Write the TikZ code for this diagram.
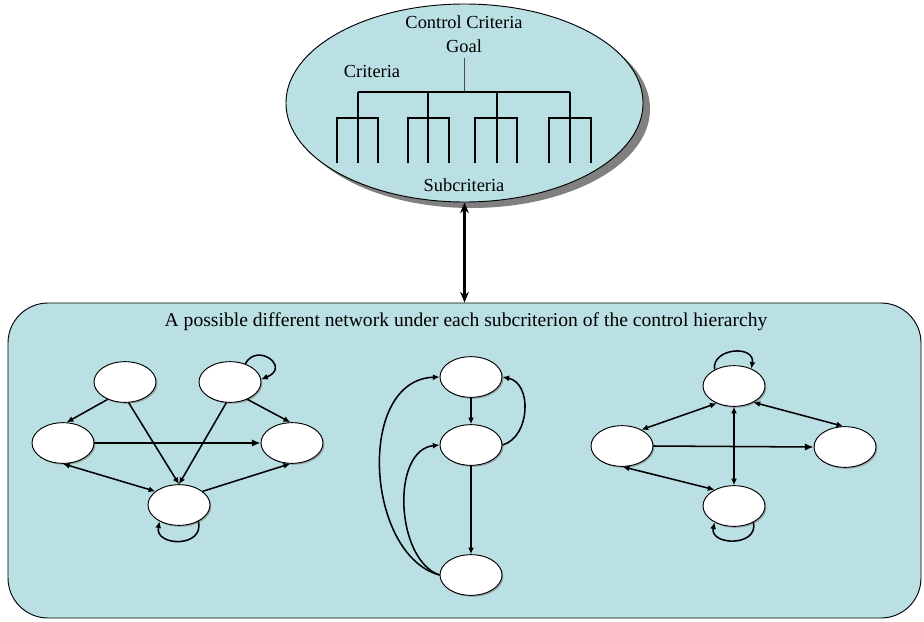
\documentclass[tikz,border=0pt]{standalone}
\usepackage{fontspec}
\setmainfont{Liberation Serif}
\usetikzlibrary{arrows.meta,shadows,shapes.geometric}
\definecolor{panelblue}{RGB}{186,224,227}
\definecolor{shadowgray}{RGB}{128,128,128}
\begin{document}
\begin{tikzpicture}[x=0.75pt,y=-0.75pt,
  every node/.style={font=\fontsize{13.8}{15}\selectfont},
  netnode/.style={ellipse,draw,fill=white,line width=0.7pt,minimum width=46.5pt,minimum height=30.5pt,inner sep=0pt,
    drop shadow={shadow xshift=1.1pt,shadow yshift=-1.1pt,fill=shadowgray,opacity=0.6}},
  link/.style={line width=1.15pt},
  tip/.style={link,-{Latex[length=5pt,width=4.5pt]}},
  bigtip/.style={link,-{Latex[length=6.5pt,width=5.5pt]}},
  twotip/.style={link,{Latex[length=5pt,width=4.5pt]}-{Latex[length=5pt,width=4.5pt]}},
  tree/.style={line width=1pt}
]
\useasboundingbox (0,0) rectangle (924,621);
\fill[white] (0,0) rectangle (924,621);

% control hierarchy ellipse with its shadow
\fill[shadowgray] (471.5,109) ellipse [x radius=133.9pt, y radius=74.25pt];
\node (ctrl) [ellipse,draw,fill=panelblue,line width=0.7pt,minimum width=267.8pt,minimum height=148.5pt,inner sep=0pt] at (464.5,103) {};

\node (cc) at (464,22) {Control Criteria};
\node (goal) at (464,46) {Goal};
\node (crit) at (372,71) {Criteria};
\node (sub) at (464,185) {Subcriteria};

% hierarchy tree
\draw[line width=0.6pt,black!70] (464,58) -- (464,92);
\draw[tree] (358,92) -- (570,92);
\foreach \m/\l/\r in {358/337/378, 428/408/449, 497/475/517, 570/549/591}{
  \draw[tree] (\m,92) -- (\m,163);
  \draw[tree] (\l,163) -- (\l,118) -- (\r,118) -- (\r,163);
}

% network panel
\node (panel) [draw,fill=panelblue,line width=0.7pt,rounded corners=30pt,minimum width=684.75pt,minimum height=236.25pt,inner sep=0pt] at (464.5,460.5) {};
\node (caption) [font=\fontsize{14.7}{16}\selectfont] at (466,322) {A possible different network under each subcriterion of the control hierarchy};

% link between hierarchy and panel
\draw[line width=1.6pt,{Stealth[length=8pt,width=6.5pt]}-{Stealth[length=8pt,width=6.5pt]}] (ctrl.south) -- (panel.north);

% left network
\node[netnode] (a) at (125,382) {};
\node[netnode] (b) at (230,382) {};
\node[netnode] (c) at (63,443) {};
\node[netnode] (d) at (292,443) {};
\node[netnode] (e) at (179,505) {};
\draw[tip] (a.225) -- (c.80);
\draw[tip] (a.-80) -- (e.north);
\draw[tip] (b.-100) -- (e.north);
\draw[tip] (b.-45) -- (d.95);
\draw[bigtip] (c.east) -- (d.west);
\draw[twotip] (c.-90) -- (e.150);
\draw[tip] (e.30) -- (d.-95);
\draw[tip] (b.50) .. controls +(12,-22) and +(30,-12) .. (b.5);
\draw[tip] (e.-40) .. controls +(6,27) and +(-5,25) .. (e.-140);

% middle network
\node[netnode] (f) at (471,377) {};
\node[netnode] (g) at (471,445) {};
\node[netnode] (h) at (471,575) {};
\draw[tip] (f.south) -- (g.north);
\draw[tip] (g.south) -- (h.north);
\draw[tip] (g.east) .. controls +(28,-8) and +(30,6) .. (f.east);
\draw[tip] (h.west) .. controls +(-74,-20) and +(-84,3) .. (f.west);
\draw[tip] (h.west) .. controls +(-44,-15) and +(-49,5) .. (g.west);

% right network
\node[netnode] (i) at (734,386) {};
\node[netnode] (j) at (622,446) {};
\node[netnode] (k) at (845,447) {};
\node[netnode] (l) at (734,506) {};
\draw[twotip] (i.-135) -- (j.40);
\draw[twotip] (i.-40) -- (k.95);
\draw[bigtip] (j.east) -- (k.west);
\draw[twotip] (i.south) -- (l.north);
\draw[twotip] (j.-88) -- (l.140);
\draw[tip] (i.140) .. controls +(-3,-22) and +(4,-24) .. (i.45);
\draw[tip] (l.-40) .. controls +(5,25) and +(-5,23) .. (l.-140);
\end{tikzpicture}
\end{document}
